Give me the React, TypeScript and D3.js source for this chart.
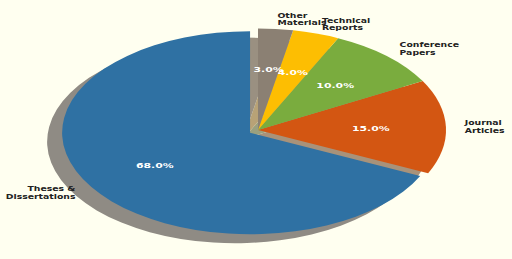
import React from "react";
import * as d3 from "d3";

const categories = ["Theses &\nDissertations", "Journal\nArticles", "Conference\nPapers", "Technical\nReports", "Other\nMaterials"];
const values = [68, 15, 10, 4, 3];
const explode = [0.05, 0, 0, 0, 0];

const sliceColors = ["#2f71a3", "#d35612", "#7aac3e", "#fdbe02", "#8b8073"];
const shadowColors = ["#8f8b84", "#a8927a", "#9aa07e", "#b8a276", "#9a9081"];

const W = 512;
const H = 259;
const CX = 258;
const CY = 130;
const RX = 188;
const RY = 101.5;
const SHADOW_DX = -15;
const SHADOW_DY = 9;

export default function App() {
  const pie = d3
    .pie<number>()
    .sort(null)
    .value((d) => d)
    .startAngle(0)
    .endAngle(-2 * Math.PI);
  const arcs = pie(values);
  const arcGen = d3.arc<d3.PieArcDatum<number>>().innerRadius(0).outerRadius(1);

  const info = arcs.map((a, i) => {
    const mid = (a.startAngle + a.endAngle) / 2;
    const ux = Math.sin(mid);
    const uy = -Math.cos(mid);
    const cx = CX + explode[i] * RX * ux;
    const cy = CY + explode[i] * RY * uy;
    return { a, mid, ux, uy, cx, cy, i };
  });

  const lineH = 7.5;

  return (
    <svg
      width={W}
      height={H}
      style={{ position: "absolute", left: 0, top: 0, display: "block" }}
    >
      <rect x={0} y={0} width={W} height={H} fill="#fffff0" />
      {/* shadows */}
      {info.map((s) => (
        <g key={"sh" + s.i} transform={`translate(${s.cx + SHADOW_DX},${s.cy + SHADOW_DY}) scale(${RX},${RY})`}>
          <path d={arcGen(s.a) || ""} fill={shadowColors[s.i]} />
        </g>
      ))}
      {/* wedges */}
      {info.map((s) => (
        <g key={"w" + s.i} transform={`translate(${s.cx},${s.cy}) scale(${RX},${RY})`}>
          <path d={arcGen(s.a) || ""} fill={sliceColors[s.i]} />
        </g>
      ))}
      {/* category labels */}
      {info.map((s) => {
        const lx = s.cx + 1.1 * RX * s.ux;
        const ly = s.cy + 1.1 * RY * s.uy;
        const lines = categories[s.i].split("\n");
        const anchor = s.ux > 0 ? "start" : "end";
        const total = lines.length * lineH;
        return (
          <g key={"l" + s.i} transform={`translate(${lx},${ly}) scale(1.33,1)`}>
            <text
              textAnchor={anchor}
              fontFamily="DejaVu Sans"
              fontWeight="bold"
              fontSize={7}
              fill="#222222"
            >
              {lines.map((ln, k) => (
                <tspan key={k} x={0} y={-total / 2 + lineH * k + lineH / 2 + 2.5}>
                  {ln}
                </tspan>
              ))}
            </text>
          </g>
        );
      })}
      {/* percent labels */}
      {info.map((s) => {
        const px = s.cx + 0.6 * RX * s.ux;
        const py = s.cy + 0.6 * RY * s.uy;
        const total = d3.sum(values);
        return (
          <g key={"p" + s.i} transform={`translate(${px},${py}) scale(1.45,0.9)`}>
            <text
              textAnchor="middle"
              y={2.7}
              fontFamily="DejaVu Sans"
              fontWeight="bold"
              fontSize={7.5}
              fill="#ffffff"
            >
              {((values[s.i] / total) * 100).toFixed(1) + "%"}
            </text>
          </g>
        );
      })}
    </svg>
  );
}
